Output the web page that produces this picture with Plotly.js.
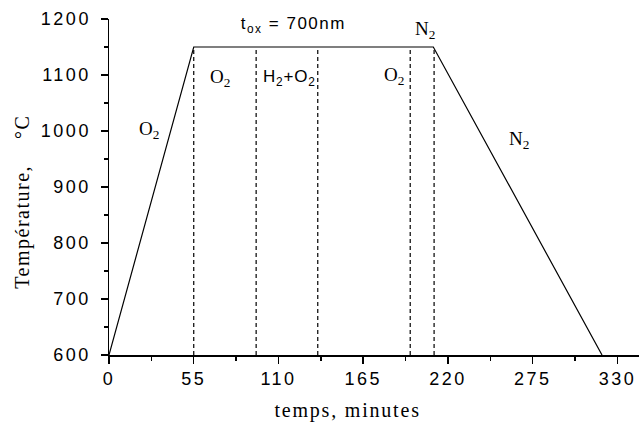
<!DOCTYPE html>
<html>
<head>
<meta charset="utf-8">
<script src="https://cdn.plot.ly/plotly-3.0.1.min.js"></script>
<style>
  html, body { margin: 0; padding: 0; background: #fff; }
  #chart { width: 639px; height: 423px; }
  .xtick text, .ytick text { letter-spacing: 2.5px; }
  g.annotation[data-index="0"] text { letter-spacing: 1.5px; }
  g.annotation[data-index="3"] text { letter-spacing: 0.8px; }
  g.annotation[data-index="7"] text { letter-spacing: 1.5px; }
  g.annotation[data-index="8"] text { letter-spacing: 1.8px; }
</style>
</head>
<body>
<div id="chart"></div>
<script>
// Thermal oxidation profile
const timeMinutes = [0, 55, 210.5, 320];
const temperatureC = [600, 1150, 1150, 600];

// Gas switch instants (dashed separators)
const switchTimes = [55, 95.5, 135.5, 195.5, 211];
const switchLow = 600;
const switchHigh = 1150;

// Tick labels
const xTicks = [0, 55, 110, 165, 220, 275, 330];
const yTicks = [600, 700, 800, 900, 1000, 1100, 1200];

// Labels on the chart
const labelTexts = ['t<sub>ox</sub> = 700nm', 'O<sub>2</sub>', 'O<sub>2</sub>', 'H<sub>2</sub>+O<sub>2</sub>', 'O<sub>2</sub>', 'N<sub>2</sub>', 'N<sub>2</sub>'];
const labelX = [120, 26, 72, 117, 185, 205, 266];
const labelY = [1189, 1001, 1094, 1094, 1099, 1180, 984];
const labelSerif = [false, true, true, false, true, true, true];

const serif = '"Liberation Serif", "Times New Roman", serif';
const sans = '"Liberation Sans", Arial, sans-serif';

const traces = [];
traces.push({
  x: timeMinutes, y: temperatureC, mode: 'lines', type: 'scatter',
  line: {color: '#000', width: 1.2}, hoverinfo: 'skip', showlegend: false
});
switchTimes.forEach(t => {
  traces.push({
    x: [t, t], y: [switchLow, switchHigh], mode: 'lines', type: 'scatter',
    line: {color: '#000', width: 1.2, dash: '4px,3px'}, hoverinfo: 'skip', showlegend: false
  });
});

const annotations = labelTexts.map((t, i) => ({
  x: labelX[i], y: labelY[i], xref: 'x', yref: 'y', text: t, showarrow: false,
  xanchor: 'center', yanchor: 'middle',
  font: {family: labelSerif[i] ? serif : sans, size: labelSerif[i] ? 19 : 17, color: '#000'}
}));
annotations.push({
  x: -0.164, y: 0.455, xref: 'paper', yref: 'paper', textangle: -90,
  text: 'Température,\u00a0\u00a0\u00a0\u00a0°C', showarrow: false,
  xanchor: 'center', yanchor: 'middle',
  font: {family: serif, size: 20, color: '#000'}
});
annotations.push({
  x: 0.45, y: -0.165, xref: 'paper', yref: 'paper',
  text: 'temps, minutes', showarrow: false,
  xanchor: 'center', yanchor: 'middle',
  font: {family: serif, size: 20, color: '#000'}
});

const layout = {
  width: 639, height: 423,
  margin: {l: 109, r: 0, t: 19, b: 68},
  paper_bgcolor: '#fff', plot_bgcolor: '#fff',
  showlegend: false,
  xaxis: {
    range: [0, 344], tickvals: xTicks, ticktext: xTicks.map(String),
    ticks: 'outside', ticklen: 7, tickwidth: 1.5, tickcolor: '#000',
    showline: true, linecolor: '#000', linewidth: 1.5,
    showgrid: false, zeroline: false,
    tickfont: {family: sans, size: 18, color: '#000'},
    minor: {dtick: 27.5, tick0: 0, ticks: 'outside', ticklen: 4, tickwidth: 1.5, tickcolor: '#000', showgrid: false}
  },
  yaxis: {
    range: [600, 1200], tickvals: yTicks, ticktext: yTicks.map(String),
    ticks: 'outside', ticklen: 7, tickwidth: 1.5, tickcolor: '#000',
    showline: true, linecolor: '#000', linewidth: 1.5,
    showgrid: false, zeroline: false, ticklabelstandoff: 6,
    tickfont: {family: sans, size: 18, color: '#000'},
    minor: {dtick: 50, tick0: 600, ticks: 'outside', ticklen: 4, tickwidth: 1.5, tickcolor: '#000', showgrid: false}
  },
  annotations: annotations
};

Plotly.newPlot('chart', traces, layout, {staticPlot: true, displayModeBar: false});
</script>
</body>
</html>
